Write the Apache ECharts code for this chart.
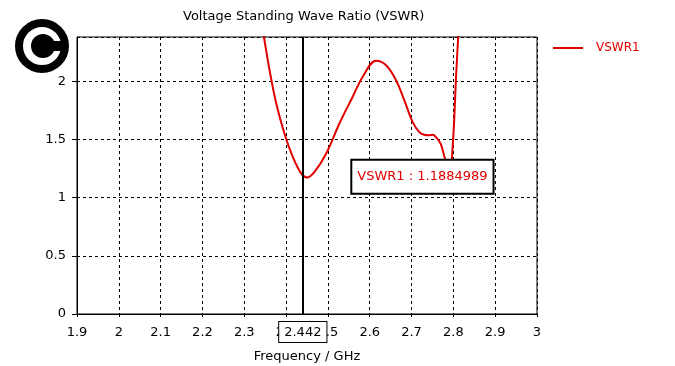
<!DOCTYPE html>
<html>
<head>
<meta charset="utf-8">
<script src="https://cdn.jsdelivr.net/npm/echarts@6/dist/echarts.min.js"></script>
<style>
  html, body { margin: 0; padding: 0; background: #fff; }
  #chart { width: 675px; height: 366px; }
</style>
</head>
<body>
<div id="chart"></div>
<script>
// ---- data ----
const seriesName = 'VSWR1';
const freq = [2.33, 2.347, 2.3605, 2.3765, 2.396, 2.416, 2.436, 2.4496, 2.468, 2.496, 2.5275, 2.559, 2.583, 2.615, 2.639, 2.663, 2.6826, 2.7025, 2.718, 2.73, 2.742, 2.75, 2.758, 2.77, 2.778, 2.784, 2.79, 2.794, 2.7965, 2.802, 2.806, 2.8115, 2.82];
const vswr = [2.74, 2.38, 2.094, 1.808, 1.551, 1.35, 1.208, 1.173, 1.222, 1.379, 1.637, 1.865, 2.037, 2.175, 2.137, 2.009, 1.837, 1.651, 1.565, 1.54, 1.536, 1.54, 1.522, 1.46, 1.36, 1.29, 1.22, 1.26, 1.336, 1.665, 2.009, 2.38, 3.0];
const markerFreq = 2.442;
const markerLabel = '2.442';
const readoutText = 'VSWR1 : 1.1884989';
const readoutAt = [2.726, 1.18];
const xTicks = { min: 1.9, max: 3, interval: 0.1 };
const yTicks = { min: 0, max: 2.38, interval: 0.5 };

const FONT = 'DejaVu Sans';
const RED = '#e00000';

const chart = echarts.init(document.getElementById('chart'), null, { renderer: 'canvas' });

const option = {
  backgroundColor: '#fff',
  animation: false,
  textStyle: { fontFamily: FONT },
  title: {
    text: 'Voltage Standing Wave Ratio (VSWR)',
    left: 183, top: 10, padding: 0,
    textStyle: { fontFamily: FONT, fontSize: 13, fontWeight: 'normal', color: '#000' }
  },
  legend: {
    left: 553, top: 42, padding: 0,
    icon: 'rect', itemWidth: 30, itemHeight: 2,
    data: [seriesName],
    textStyle: { fontFamily: FONT, fontSize: 12, color: RED, padding: [0, 0, 0, 8] }
  },
  grid: {
    left: 77, right: 138, top: 37, bottom: 52,
    outerBoundsMode: 'none', containLabel: false,
    show: true, borderColor: '#000', borderWidth: 1, backgroundColor: 'transparent'
  },
  xAxis: {
    type: 'value',
    min: xTicks.min, max: xTicks.max, interval: xTicks.interval,
    name: 'Frequency / GHz', nameLocation: 'middle', nameGap: 36,
    nameTextStyle: { fontFamily: FONT, fontSize: 13, color: '#000' },
    axisLine: { show: true, lineStyle: { color: '#000', width: 1 } },
    axisTick: { show: true, length: 3, lineStyle: { color: '#000' } },
    axisLabel: { fontFamily: FONT, fontSize: 13, color: '#000', margin: 12 },
    splitLine: { show: true, lineStyle: { color: '#000', width: 1, type: [3, 3] } }
  },
  yAxis: {
    type: 'value',
    min: yTicks.min, max: yTicks.max, interval: yTicks.interval,
    axisLine: { show: true, lineStyle: { color: '#000', width: 1 } },
    axisTick: { show: true, length: 5, lineStyle: { color: '#000' } },
    axisLabel: { fontFamily: FONT, fontSize: 13, color: '#000', margin: 11, showMaxLabel: false },
    splitLine: { show: true, lineStyle: { color: '#000', width: 1, type: [3, 3] } }
  },
  series: [{
    name: seriesName,
    type: 'line',
    data: freq.map((f, i) => [f, vswr[i]]),
    smooth: 0.35,
    showSymbol: false,
    clip: true,
    lineStyle: { color: RED, width: 2 },
    itemStyle: { color: RED },
    markLine: {
      silent: true,
      symbol: ['none', 'none'],
      lineStyle: { color: '#000', width: 2, type: 'solid' },
      label: {
        show: true, position: 'start', distance: 8,
        formatter: markerLabel,
        fontFamily: FONT, fontSize: 13, color: '#000',
        backgroundColor: '#fff', borderColor: '#000', borderWidth: 1,
        padding: [4, 5, 3, 5]
      },
      data: [{ xAxis: markerFreq }]
    },
    markPoint: {
      silent: true,
      symbol: 'circle',
      symbolSize: 1,
      itemStyle: { color: 'transparent' },
      label: {
        show: true, position: 'inside', formatter: readoutText,
        fontFamily: FONT, fontSize: 13, color: RED,
        backgroundColor: '#fff', borderColor: '#000', borderWidth: 2,
        padding: [10, 5, 9, 5]
      },
      data: [{ coord: readoutAt }]
    }
  }],
  graphic: [{
    type: 'group',
    left: 15, top: 19,
    children: [
      { type: 'circle', shape: { cx: 28, cy: 28, r: 23 }, style: { fill: '#fff', stroke: '#000', lineWidth: 8 } },
      { type: 'circle', shape: { cx: 29, cy: 28, r: 12 }, style: { fill: '#000' } },
      { type: 'rect', shape: { x: 29, y: 23, width: 18, height: 10 }, style: { fill: '#000' } }
    ]
  }]
};

chart.setOption(option);
</script>
</body>
</html>
